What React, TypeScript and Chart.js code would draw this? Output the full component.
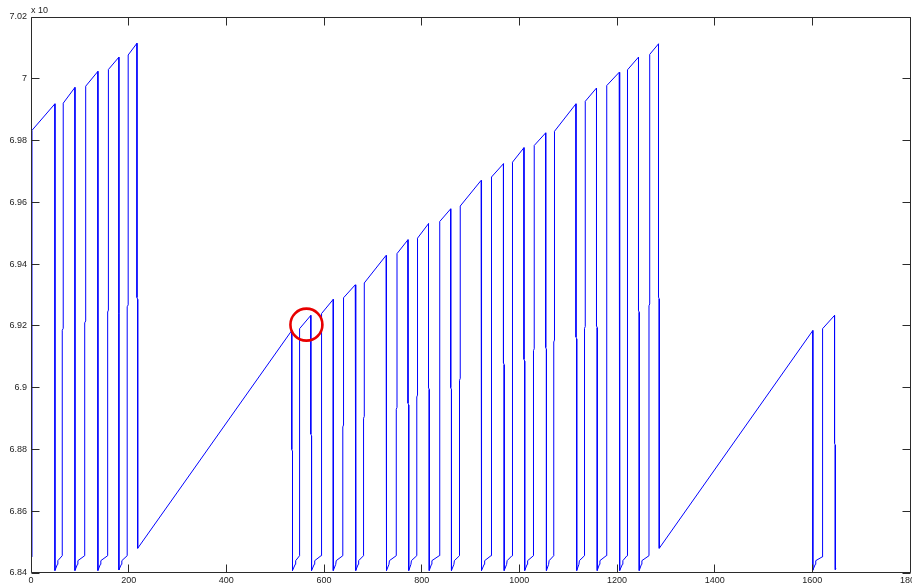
import React, { useEffect, useRef } from "react";
import { Chart, registerables } from "chart.js";

Chart.register(...registerables);

// Trace (x: sample index, y: value in units of the axis)
const traceX = [
  2, 2, 49, 49, 54, 55, 64, 64, 66, 66,
  90, 90, 95, 96, 110, 110, 112, 112,
  137, 137, 142, 143, 157, 157, 158.5, 158.5,
  180, 180, 185, 186, 197, 197, 199, 199,
  217, 217, 218.5, 218.5, 300, 410, 534,
  534, 535.5, 535.5, 541, 542, 550, 550,
  573, 573, 574.5, 574.5, 580, 581, 594, 594, 595.5, 595.5,
  619, 619, 624, 625, 638.5, 638.5, 640, 640,
  664, 664, 665.5, 665.5, 670, 671, 681, 681, 682.5, 682.5,
  727, 727, 728.5, 728.5, 733, 734, 748, 748, 749.5, 749.5,
  772, 772, 773.5, 773.5, 778, 779, 790, 790, 791.5, 791.5,
  814, 814, 815.5, 815.5, 820, 821, 836, 836, 837.5, 837.5,
  859.5, 859.5, 861, 861, 866, 867, 877.5, 877.5, 879, 879,
  921.7, 921.7, 923, 923, 928, 929, 942, 942, 943.5, 943.5,
  967.5, 967.5, 969, 969, 974, 975, 985, 985, 986.5, 986.5,
  1009.5, 1009.5, 1011, 1011, 1016, 1017, 1029, 1029, 1030.5, 1030.5,
  1054, 1054, 1055.5, 1055.5, 1060, 1061, 1070.5, 1070.5, 1072, 1072,
  1116, 1116, 1117.5, 1117.5, 1122, 1123, 1133.5, 1133.5, 1135, 1135,
  1158, 1158, 1159.5, 1159.5, 1164, 1165, 1178, 1178, 1179.5, 1179.5,
  1204.5, 1204.5, 1206, 1206, 1211, 1212, 1220.5, 1220.5, 1222, 1222,
  1244, 1244, 1245.5, 1245.5, 1250, 1251, 1265.5, 1265.5, 1267, 1267,
  1285, 1285, 1286.5, 1286.5, 1601,
  1601, 1606, 1607, 1620, 1620, 1621.5, 1621.5,
  1645.5, 1645.5, 1647, 1647, 1648.5,
];

const traceY = [
  6.8452, 6.9833, 6.9919, 6.8408, 6.8428, 6.844, 6.8456, 6.9186, 6.9192, 6.9921,
  6.9972, 6.8408, 6.8428, 6.844, 6.8456, 6.921, 6.9216, 6.9976,
  7.0024, 6.8408, 6.8428, 6.844, 6.8456, 6.9245, 6.9251, 7.003,
  7.007, 6.841, 6.8428, 6.844, 6.8456, 6.9262, 6.9268, 7.0077,
  7.0115, 6.9292, 6.9286, 6.848, 6.8662, 6.8908, 6.9185,
  6.88, 6.8794, 6.8408, 6.8428, 6.844, 6.8456, 6.9191,
  6.9234, 6.885, 6.8844, 6.8408, 6.8428, 6.844, 6.8456, 6.8846, 6.8852, 6.924,
  6.9286, 6.8408, 6.8428, 6.844, 6.8456, 6.8873, 6.8879, 6.9291,
  6.9333, 6.8873, 6.8867, 6.8408, 6.8428, 6.844, 6.8456, 6.8901, 6.8907, 6.9339,
  6.9428, 6.8917, 6.8911, 6.8408, 6.8428, 6.844, 6.8456, 6.893, 6.8936, 6.9434,
  6.9479, 6.895, 6.8944, 6.8408, 6.8428, 6.844, 6.8456, 6.897, 6.8976, 6.9484,
  6.9531, 6.9, 6.8994, 6.8408, 6.8428, 6.844, 6.8456, 6.901, 6.9016, 6.9538,
  6.9579, 6.9, 6.8994, 6.8408, 6.8428, 6.844, 6.8456, 6.9024, 6.903, 6.9588,
  6.9671, 6.905, 6.9044, 6.8408, 6.8428, 6.844, 6.8456, 6.9067, 6.9073, 6.9682,
  6.9725, 6.908, 6.9074, 6.8408, 6.8428, 6.844, 6.8456, 6.9085, 6.9091, 6.973,
  6.9777, 6.9092, 6.9086, 6.8408, 6.8428, 6.844, 6.8456, 6.912, 6.9126, 6.9784,
  6.9825, 6.913, 6.9124, 6.8408, 6.8428, 6.844, 6.8456, 6.9148, 6.9154, 6.983,
  6.9919, 6.9164, 6.9158, 6.8408, 6.8428, 6.844, 6.8456, 6.9192, 6.9198, 6.9927,
  6.997, 6.92, 6.9194, 6.8408, 6.8428, 6.844, 6.8456, 6.9218, 6.9224, 6.9978,
  7.0021, 6.924, 6.9234, 6.8408, 6.8428, 6.844, 6.8456, 6.924, 6.9246, 7.0029,
  7.007, 6.925, 6.9244, 6.8408, 6.8428, 6.844, 6.8456, 6.9265, 6.9271, 7.0079,
  7.0113, 6.9293, 6.9287, 6.848, 6.9185,
  6.8409, 6.8428, 6.844, 6.8452, 6.8823, 6.8829, 6.9191,
  6.9234, 6.882, 6.8814, 6.8411, 6.8414,
];

const xTickValues = [0, 200, 400, 600, 800, 1000, 1200, 1400, 1600, 1800];
const xTickLabels = ["0", "200", "400", "600", "800", "1000", "1200", "1400", "1600", "1800"];
const yTickValues = [6.84, 6.86, 6.88, 6.9, 6.92, 6.94, 6.96, 6.98, 7, 7.02];
const yTickLabels = ["6.84", "6.86", "6.88", "6.9", "6.92", "6.94", "6.96", "6.98", "7", "7.02"];
const exponentLabel = "x 10";

// Red highlight circle (data coordinates of its centre)
const markerX = [564];
const markerY = [6.9204];

const FONT = { family: "'Liberation Sans', Arial, sans-serif", size: 9 };
const TEXT_COLOR = "#1c1c1c";
const FRAME_COLOR = "#2b2b2b";

export default function App() {
  const ref = useRef<HTMLCanvasElement>(null);

  useEffect(() => {
    const canvas = ref.current;
    if (!canvas) return;
    const data = traceX.map((x, i) => ({ x, y: traceY[i] }));

    const framePlugin = {
      id: "matlabFrame",
      afterDatasetsDraw(chart: any) {
        const { ctx, chartArea, scales } = chart;
        const xs = scales.x;
        const ys = scales.y;
        const L = Math.floor(chartArea.left) + 0.5;
        const R = Math.floor(chartArea.right) + 0.5;
        const T = Math.floor(chartArea.top) + 0.5;
        const B = Math.ceil(chartArea.bottom) - 0.5;
        ctx.save();
        // highlight circle
        ctx.strokeStyle = "rgb(232,0,0)";
        ctx.lineWidth = 2.6;
        for (let i = 0; i < markerX.length; i++) {
          const cx = xs.getPixelForValue(markerX[i]);
          const cy = ys.getPixelForValue(markerY[i]);
          ctx.beginPath();
          ctx.arc(cx, cy, 16, 0, Math.PI * 2);
          ctx.stroke();
        }
        // box
        ctx.strokeStyle = FRAME_COLOR;
        ctx.lineWidth = 1;
        ctx.beginPath();
        ctx.rect(L, T, R - L, B - T);
        ctx.stroke();
        // inward ticks
        const tl = 8;
        ctx.beginPath();
        xTickValues.forEach((v) => {
          const p = Math.floor(xs.getPixelForValue(v)) + 0.5;
          ctx.moveTo(p, B);
          ctx.lineTo(p, B - tl);
          ctx.moveTo(p, T);
          ctx.lineTo(p, T + tl);
        });
        yTickValues.forEach((v) => {
          const p = Math.floor(ys.getPixelForValue(v)) + 0.5;
          ctx.moveTo(L, p);
          ctx.lineTo(L + tl, p);
          ctx.moveTo(R, p);
          ctx.lineTo(R - tl, p);
        });
        ctx.stroke();
        // exponent label
        ctx.fillStyle = TEXT_COLOR;
        ctx.font = `${FONT.size}px ${FONT.family}`;
        ctx.textAlign = "left";
        ctx.textBaseline = "alphabetic";
        ctx.fillText(exponentLabel, chartArea.left, chartArea.top - 4);
        ctx.restore();
      },
    };

    const chart = new Chart(canvas, {
      type: "scatter",
      data: {
        datasets: [
          {
            data,
            showLine: true,
            borderColor: "#0000ff",
            backgroundColor: "#0000ff",
            borderWidth: 1,
            pointRadius: 0,
            pointHoverRadius: 0,
            fill: false,
            tension: 0,
          },
        ],
      },
      options: {
        responsive: false,
        animation: false,
        devicePixelRatio: 1,
        layout: { padding: { top: 17, right: 2, left: 0, bottom: 0 } },
        plugins: { legend: { display: false }, tooltip: { enabled: false } },
        events: [],
        scales: {
          x: {
            type: "linear",
            min: 0,
            max: 1800,
            afterBuildTicks: (s: any) => {
              s.ticks = xTickValues.map((v) => ({ value: v }));
            },
            ticks: {
              callback: (v: any) => xTickLabels[xTickValues.indexOf(Number(v))] ?? "",
              font: FONT,
              color: TEXT_COLOR,
              padding: 2,
              maxRotation: 0,
              autoSkip: false,
            },
            grid: { display: false, drawTicks: false },
            border: { display: false },
            afterFit: (s: any) => {
              s.height = 13;
              s.paddingLeft = 0;
              s.paddingRight = 0;
            },
          },
          y: {
            type: "linear",
            min: 6.84,
            max: 7.02,
            afterBuildTicks: (s: any) => {
              s.ticks = yTickValues.map((v) => ({ value: v }));
            },
            ticks: {
              callback: (v: any) => {
                const idx = yTickValues.findIndex((t) => Math.abs(t - Number(v)) < 1e-9);
                return idx >= 0 ? yTickLabels[idx] : "";
              },
              font: FONT,
              color: TEXT_COLOR,
              padding: 4,
              autoSkip: false,
            },
            grid: { display: false, drawTicks: false },
            border: { display: false },
            afterFit: (s: any) => {
              s.width = 31;
              s.paddingTop = 0;
              s.paddingBottom = 0;
            },
          },
        },
      },
      plugins: [framePlugin],
    } as any);

    return () => chart.destroy();
  }, []);

  return (
    <canvas
      ref={ref}
      width={912}
      height={586}
      style={{ position: "fixed", left: 0, top: 0, display: "block", background: "#ffffff" }}
    />
  );
}
